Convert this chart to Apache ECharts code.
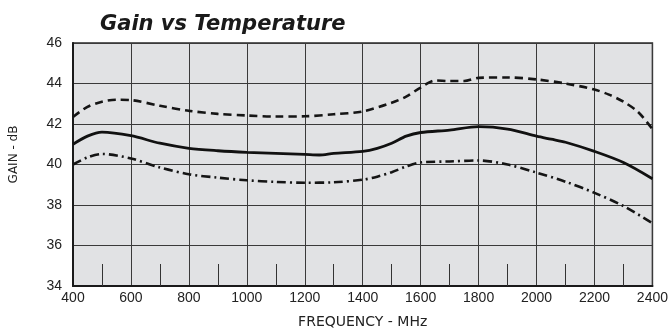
<!DOCTYPE html>
<html>
<head>
<meta charset="utf-8">
<script src="https://cdn.jsdelivr.net/npm/echarts@6/dist/echarts.min.js"></script>
<style>html,body{margin:0;padding:0;background:#fff}#c{width:671px;height:334px}</style>
</head>
<body>
<div id="c"></div>
<script>
var titleText = 'Gain vs Temperature';
var xName = 'FREQUENCY - MHz';
var yName = 'GAIN - dB';
var xTicks = [400, 600, 800, 1000, 1200, 1400, 1600, 1800, 2000, 2200, 2400];
var yTicks = [34, 36, 38, 40, 42, 44, 46];

var freqSolid = [400, 450, 500, 600, 700, 800, 900, 1000, 1100, 1200, 1250, 1300, 1400, 1450, 1500, 1550, 1600, 1700, 1800, 1900, 2000, 2050, 2100, 2200, 2300, 2400];
var gainSolid = [41.0, 41.4, 41.6, 41.42, 41.05, 40.8, 40.68, 40.6, 40.55, 40.5, 40.47, 40.55, 40.65, 40.8, 41.05, 41.4, 41.58, 41.7, 41.87, 41.75, 41.4, 41.25, 41.1, 40.65, 40.1, 39.3];

var freqDashed = [400, 450, 500, 550, 600, 700, 800, 900, 1000, 1100, 1200, 1300, 1400, 1500, 1550, 1600, 1650, 1700, 1750, 1800, 1900, 2000, 2100, 2200, 2250, 2300, 2350, 2400];
var gainDashed = [42.35, 42.85, 43.1, 43.2, 43.18, 42.9, 42.65, 42.5, 42.42, 42.37, 42.38, 42.48, 42.62, 43.05, 43.35, 43.8, 44.15, 44.12, 44.12, 44.28, 44.3, 44.2, 44.0, 43.7, 43.45, 43.1, 42.6, 41.75];

var freqDashDot = [400, 450, 500, 600, 700, 800, 900, 1000, 1100, 1200, 1300, 1400, 1450, 1500, 1550, 1600, 1700, 1800, 1900, 2000, 2100, 2200, 2300, 2400];
var gainDashDot = [40.0, 40.35, 40.52, 40.3, 39.85, 39.52, 39.35, 39.22, 39.14, 39.1, 39.12, 39.25, 39.4, 39.62, 39.9, 40.1, 40.15, 40.2, 40.0, 39.6, 39.15, 38.6, 37.95, 37.1];

function pairs(xs, ys) { return xs.map(function (x, i) { return [x, ys[i]]; }); }

var chart = echarts.init(document.getElementById('c'), null, {renderer: 'canvas'});
var font = 'Liberation Sans, Arial, sans-serif';
chart.setOption({
  animation: false,
  backgroundColor: '#ffffff',
  title: {
    text: titleText,
    left: 95, top: 9,
    textStyle: {fontFamily: 'DejaVu Sans, sans-serif', fontSize: 21, fontWeight: 'bold', fontStyle: 'italic', color: '#1a1a1a'}
  },
  grid: {
    left: 73, right: 16, top: 43, bottom: 47,
    show: true, backgroundColor: '#e1e2e4', borderColor: '#2a2a2a', borderWidth: 1.5
  },
  xAxis: {
    type: 'value',
    min: xTicks[0], max: xTicks[xTicks.length - 1], interval: 200,
    name: xName, nameLocation: 'middle', nameGap: 29,
    nameTextStyle: {fontFamily: 'DejaVu Sans, sans-serif', fontSize: 14, color: '#222'},
    axisLine: {show: true, lineStyle: {color: '#1a1a1a', width: 2}},
    axisTick: {show: false, inside: true},
    minorTick: {show: true, splitNumber: 2, length: 22, lineStyle: {color: '#333', width: 1}},
    axisLabel: {fontFamily: font, fontSize: 14, color: '#222', margin: 5,
      formatter: function (v) { return String(v); }},
    splitLine: {show: true, lineStyle: {color: '#3a3a3a', width: 1}}
  },
  yAxis: {
    type: 'value',
    min: yTicks[0], max: yTicks[yTicks.length - 1], interval: 2,
    name: yName, nameLocation: 'middle', nameGap: 53, nameRotate: 90,
    nameTextStyle: {fontFamily: 'DejaVu Sans, sans-serif', fontSize: 12, color: '#222', padding: [0, 0, 0, 20]},
    axisLine: {show: true, lineStyle: {color: '#1a1a1a', width: 2}},
    axisTick: {show: false},
    axisLabel: {fontFamily: font, fontSize: 14, color: '#222', margin: 11},
    splitLine: {show: true, lineStyle: {color: '#3a3a3a', width: 1}}
  },
  series: [
    {type: 'line', data: pairs(freqDashed, gainDashed), smooth: 0.3, symbol: 'none',
     lineStyle: {color: '#151515', width: 2.6, type: [8, 5]}},
    {type: 'line', data: pairs(freqSolid, gainSolid), smooth: 0.3, symbol: 'none',
     lineStyle: {color: '#111111', width: 2.8, type: 'solid'}},
    {type: 'line', data: pairs(freqDashDot, gainDashDot), smooth: 0.3, symbol: 'none',
     lineStyle: {color: '#151515', width: 2.6, type: [9, 4, 2, 4]}}
  ]
});
</script>
</body>
</html>
